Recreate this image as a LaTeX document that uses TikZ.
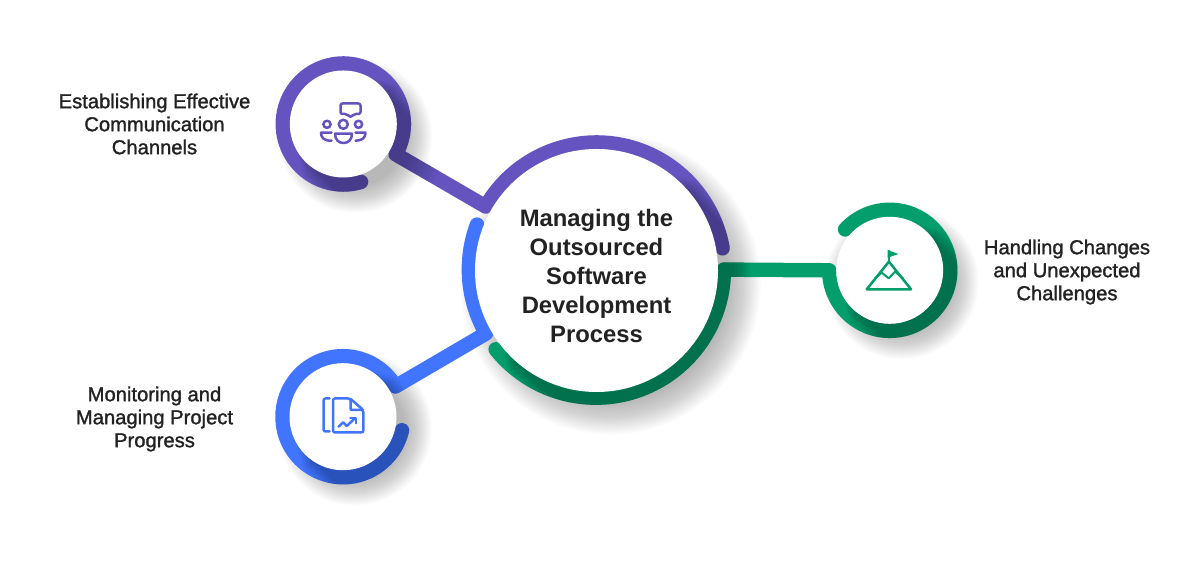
\documentclass[tikz,border=0pt]{standalone}
\usepackage{fontspec}
\setmainfont{Liberation Sans}
\newfontfamily\labelfont[FakeBold=1.4]{Liberation Sans}
\usetikzlibrary{calc}

\definecolor{teamcol}{HTML}{6554C0}
\definecolor{progresscol}{HTML}{4175FF}
\definecolor{changecol}{HTML}{049D6C}
\definecolor{inkcol}{HTML}{222222}

% paths of the three coloured rings
\newcommand{\teampath}{(teamring.-73) arc[start angle=-73, delta angle=-317, radius=60.5] -- (hubring.150) arc[start angle=150, end angle=10, radius=128]}
\newcommand{\progresspath}{(hubring.159.5) arc[start angle=159.5, end angle=210, radius=128] -- (progressring.30) arc[start angle=30, end angle=347, radius=60.5]}
\newcommand{\changepath}{(hubring.218.5) arc[start angle=218.5, end angle=360, radius=128] -- (changering.180) arc[start angle=180, end angle=497.5, radius=60.5]}

% dark band cast by a disc on a ring: centre, half width, reach, step of reach, path
\newcommand{\bandshade}[5]{%
  \foreach \k in {1,...,12}{
    \begin{scope}
      \clip ($(#1)+(-45:{-16+2*\k})+(45:{#2+1.2*\k})$) -- ($(#1)+(-45:200)+(45:{#2+1.2*\k})$)
        -- ($(#1)+(-45:200)+(225:{#2+1.2*\k})$) -- ($(#1)+(-45:{-16+2*\k})+(225:{#2+1.2*\k})$) -- cycle;
      \clip (#1) circle ({#3+#4*\k});
      \draw[ring, black, opacity=0.024] #5;
    \end{scope}
  }%
}

% soft shadow of a disc: centre, first radius, step, offset
\newcommand{\softshadow}[4]{%
  \foreach \k in {0,...,27}{
    \fill[black, opacity=0.013] ($(#1)+(#4,-#4)$) circle ({#2+#3*\k});
  }%
}

\begin{document}
\begin{tikzpicture}[
    x=1pt, y=1pt,
    guide/.style={circle, inner sep=0pt, outer sep=0pt},
    ring/.style={line width=14.5pt, line cap=round, line join=round},
    disc/.style={circle, fill=white, inner sep=0pt, outer sep=0pt},
    icon/.style={line width=2.5pt, line cap=round, line join=round},
    side_label/.style={align=center, text=inkcol, font=\labelfont\fontsize{20.2}{23}\selectfont},
    hub_label/.style={align=center, text=inkcol, font=\bfseries\fontsize{23.8}{29}\selectfont}
]
\useasboundingbox (0,0) rectangle (1200,575);

% --- Ring guides ---
\node[guide, minimum size=256pt] (hubring) at (596.5,304.5) {};
\node[guide, minimum size=121pt] (teamring) at (343.3,451) {};
\node[guide, minimum size=121pt] (progressring) at (343,158.3) {};
\node[guide, minimum size=121pt] (changering) at (889.7,304.7) {};

% --- Shadows ---
\softshadow{hubring}{118}{1.2}{14}
\softshadow{teamring}{50}{1.0}{12}
\softshadow{progressring}{50}{1.0}{12}
\softshadow{changering}{50}{1.0}{12}

% --- Rings and connectors ---
\draw[ring, teamcol] \teampath;
\draw[ring, progresscol] \progresspath;
\draw[ring, changecol] \changepath;

\bandshade{hubring}{120}{136}{1.5}{\teampath}
\bandshade{hubring}{120}{136}{1.5}{\changepath}
\bandshade{teamring}{51}{72}{3}{\teampath}
\bandshade{progressring}{51}{72}{3}{\progresspath}
\bandshade{changering}{51}{72}{3}{\changepath}

% --- Discs ---
\node[disc, minimum size=243pt] (hub) at (hubring) {};
\node[disc, minimum size=107pt] (team) at (teamring) {};
\node[disc, minimum size=107pt] (progress) at (progressring) {};
\node[disc, minimum size=107pt] (change) at (changering) {};

% --- Labels ---
\node[hub_label] (title) at (596.5,299.5) {Managing the\\Outsourced\\Software\\Development\\Process};
\node[side_label] (teamlabel) at (154.5,451) {Establishing Effective\\Communication\\Channels};
\node[side_label] (progresslabel) at (154.5,156) {Monitoring and\\Managing Project\\Progress};
\node[side_label] (changelabel) at (1067,303) {Handling Changes\\and Unexpected\\Challenges};

% --- Icons, in picture pixels ---
\begin{scope}[shift={(0,575)}, yscale=-1]
  % people with a speech bubble
  \draw[icon, teamcol, rounded corners=2pt] (340.5,103.5) -- (360.5,103.5) -- (360.5,114) -- (354,114) -- (350.5,117.5) -- (347,114) -- (340.5,114) -- cycle;
  \draw[icon, teamcol] (343.3,124.3) circle (4.5);
  \draw[icon, teamcol] (327,124.3) circle (3.6);
  \draw[icon, teamcol] (358.5,124.3) circle (3.6);
  \draw[icon, teamcol] (335,133.7) -- (352,133.7) .. controls (352,140) and (348,143) .. (343.5,143) .. controls (339,143) and (335,140) .. (335,133.7) -- cycle;
  \draw[icon, teamcol] (331.5,132.7) -- (321,132.7) .. controls (321,138) and (324,140.7) .. (331.5,140.7);
  \draw[icon, teamcol] (355.5,132.7) -- (365.5,132.7) .. controls (365.5,138) and (362,140.7) .. (355.5,140.7);
  % report with a rising chart
  \draw[icon, progresscol, rounded corners=2pt] (329.5,398.5) -- (323.5,398.5) -- (323.5,431.5) -- (329.5,431.5);
  \draw[icon, progresscol, rounded corners=2pt] (350,398.5) -- (333,398.5) -- (333,432.5) -- (363.3,432.5) -- (363.3,410) -- cycle;
  \draw[icon, progresscol, rounded corners=1pt] (350.5,399) -- (350.5,410) -- (363,410);
  \draw[icon, progresscol] (338.5,426.7) -- (343.3,422.3) -- (346.7,426) -- (355,418.3);
  \draw[icon, progresscol] (350.3,417.8) -- (356,417.8) -- (356,423.3);
  % mountain with a flag
  \draw[icon, changecol] (888.9,261.7) -- (911,289.3) -- (866.7,289.3) -- cycle;
  \draw[icon, changecol, line width=2pt] (875,278.3) -- (881.7,272.7) -- (888.7,278.3) -- (895,271.7) -- (903,278.3);
  \draw[icon, changecol] (888.9,261.7) -- (888.9,251);
  \fill[changecol] (887.7,250) -- (898.3,254) -- (887.7,257.7) -- cycle;
\end{scope}

\end{tikzpicture}
\end{document}
